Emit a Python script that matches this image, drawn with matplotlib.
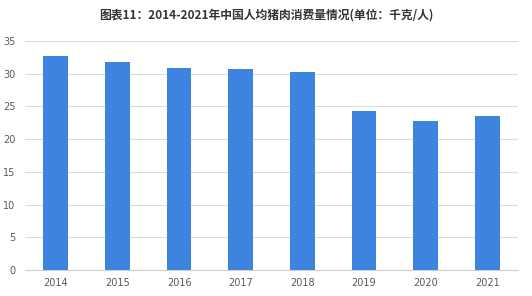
import matplotlib.pyplot as plt

plt.rcParams['font.family'] = ['Noto Sans CJK SC', 'DejaVu Sans']

# 数据
years = ['2014', '2015', '2016', '2017', '2018', '2019', '2020', '2021']
consumo = [32.7, 31.8, 30.9, 30.7, 30.2, 24.3, 22.7, 23.6]

fig = plt.figure(figsize=(5.32, 2.96), dpi=100)
ax = fig.add_axes([25 / 532, 26 / 296, 493 / 532, 229 / 296])

x = range(len(years))
ax.bar(x, consumo, width=0.4, color='#3d83e0', zorder=3)

ax.set_xlim(-0.5, len(years) - 0.5)
ax.set_ylim(0, 35)
ax.set_yticks(range(0, 36, 5))
ax.set_xticks(list(x))
ax.set_xticklabels(years)

ax.grid(axis='y', color='#dcdcdc', linewidth=0.8, zorder=0)
for s in ['top', 'right', 'left']:
    ax.spines[s].set_visible(False)
ax.spines['bottom'].set_color('#d0d0d0')
ax.tick_params(axis='both', length=0, labelsize=7, colors='#595959')
ax.tick_params(axis='y', pad=7)
ax.tick_params(axis='x', pad=6)
for lbl in ax.get_xticklabels() + ax.get_yticklabels():
    lbl.set_family('DejaVu Sans')

fig.text(0.5, 1 - 15 / 296, '图表11：2014-2021年中国人均猪肉消费量情况(单位：千克/人)',
         ha='center', va='center', fontsize=8.5, fontweight='bold', color='#333333')

fig.savefig('out.png', dpi=100)
